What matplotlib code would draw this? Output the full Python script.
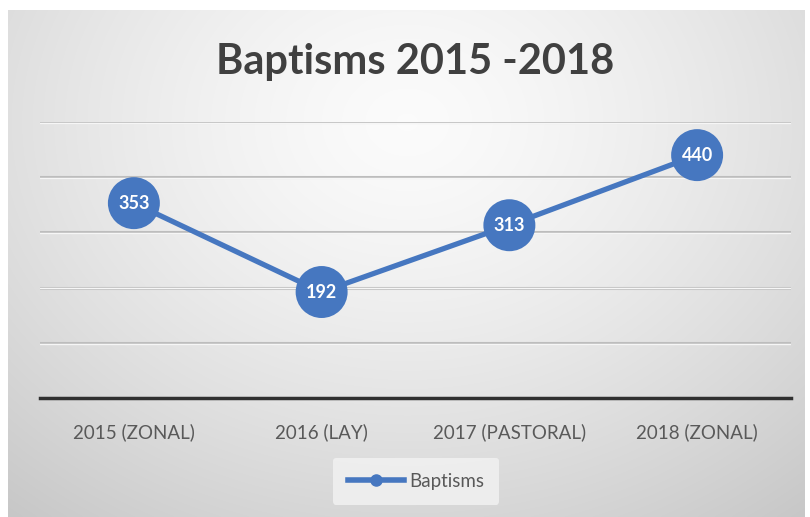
import numpy as np
import matplotlib
matplotlib.use("Agg")
import matplotlib.pyplot as plt
from matplotlib.lines import Line2D

categories = ["2015 (ZONAL)", "2016 (LAY)", "2017 (PASTORAL)", "2018 (ZONAL)"]
baptisms = [353, 192, 313, 440]
series_name = "Baptisms"
title = "Baptisms 2015 -2018"

W, H = 810, 517
fig = plt.figure(figsize=(W / 100, H / 100), dpi=100)
fig.patch.set_facecolor("white")

# background radial gradient panel
bg = fig.add_axes([8 / W, 0, (805 - 8) / W, (517 - 10) / H])
bg.set_axis_off()
ny, nx = 300, 500
yy, xx = np.mgrid[0:ny, 0:nx]
cx, cy = nx * 0.5, ny * 0.22
d = np.sqrt(((xx - cx) / (nx * 0.75)) ** 2 + ((yy - cy) / (ny * 0.95)) ** 2)
val = 0.985 - 0.19 * np.clip(d, 0, 1.2) ** 1.4
img = np.dstack([val, val, val])
bg.imshow(img, aspect="auto", extent=[0, 1, 0, 1], interpolation="bilinear")
bg.set_xlim(0, 1)
bg.set_ylim(0, 1)

# main plot axes
x0, x1 = 40, 791
y_top, y_bot = 122, 398
ax = fig.add_axes([x0 / W, 1 - y_bot / H, (x1 - x0) / W, (y_bot - y_top) / H])
ax.set_facecolor("none")
xs = np.arange(len(categories))
ax.set_xlim(-0.5, len(categories) - 0.5)
ax.set_ylim(0, 500)

for v in [100, 200, 300, 400, 500]:
    ax.axhline(v, color="#bdbdbd", lw=2.2, zorder=1)
    ax.axhline(v - 1.6, color="#f6f6f6", lw=1.0, zorder=1)

ax.axhline(0, color="#303030", lw=2.5, zorder=2, clip_on=False)

line_color = "#4677c0"
ax.plot(xs, baptisms, color=line_color, lw=3.8, zorder=3, solid_capstyle="round")
ax.scatter(xs, baptisms, s=1400, color=line_color, zorder=4, edgecolors="none")
for x, v in zip(xs, baptisms):
    ax.text(x, v, str(v), ha="center", va="center", color="white",
            fontsize=13, fontweight="bold", family="Lato", zorder=5)

ax.set_yticks([])
ax.set_xticks(xs)
ax.set_xticklabels(categories, fontsize=13.5, color="#595959", family="Lato")
ax.tick_params(axis="x", length=0, pad=18)
for s in ax.spines.values():
    s.set_visible(False)

fig.text(415 / W, 1 - 62 / H, title, ha="center", va="center", fontsize=30,
         fontweight="bold", color="#404040", family="Lato")

handle = Line2D([0], [0], color=line_color, lw=4, marker="o", markersize=8)
leg = fig.legend([handle], [series_name], loc="center",
                 bbox_to_anchor=(416 / W, 1 - 481 / H), frameon=True,
                 handlelength=3.0, borderpad=0.8, handletextpad=0.3,
                 prop={"family": "Lato", "size": 13.5})
leg.get_frame().set_facecolor("#f0f0f0")
leg.get_frame().set_edgecolor("none")
leg.get_frame().set_alpha(0.9)
for t in leg.get_texts():
    t.set_color("#595959")

fig.savefig("out.png", dpi=100)
